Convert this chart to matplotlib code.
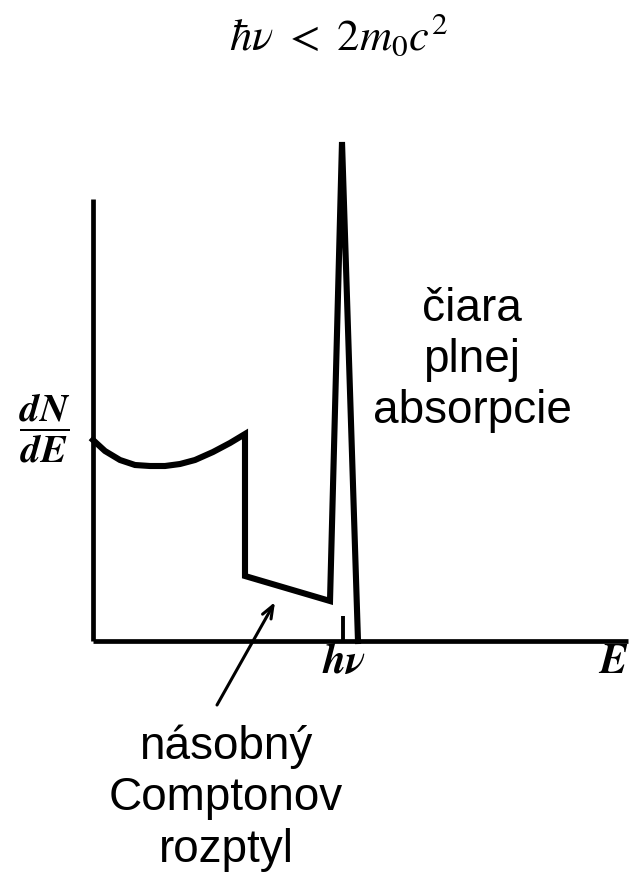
import matplotlib.pyplot as plt

plt.rcParams["mathtext.fontset"] = "stix"
plt.rcParams["font.family"] = ["Liberation Sans", "DejaVu Sans"]

# spectrum shape, energy in units of h*nu
energy = [0.0, 0.048, 0.108, 0.168, 0.228, 0.288, 0.348, 0.408, 0.48, 0.548,
          0.608, 0.608, 0.948, 0.996, 1.06]
counts = [2.01, 1.90, 1.81, 1.76, 1.75, 1.75, 1.77, 1.81, 1.89, 1.98,
          2.07, 0.65, 0.40, 4.99, 0.0]

photopeak = 1.0
tick_height = 0.25
arrow_head = (0.728, 0.39)
arrow_tail = (0.496, -0.64)

W, H = 630, 878
fig = plt.figure(figsize=(W / 100, H / 100), dpi=100)
ax = fig.add_axes([93 / W, (H - 642) / H, (628 - 93) / W, (642 - 200) / H])
ax.set_xlim(0, 2.14)
ax.set_ylim(0, 4.42)

ax.plot(energy, counts, color="black", lw=4.4, solid_joinstyle="miter",
        clip_on=False, zorder=3)
ax.vlines(photopeak, 0, tick_height, color="black", lw=2.8, zorder=3)

for side in ("top", "right"):
    ax.spines[side].set_visible(False)
for side in ("left", "bottom"):
    ax.spines[side].set_linewidth(3.4)
    ax.spines[side].set_capstyle("butt")
ax.set_xticks([])
ax.set_yticks([])

ax.annotate("", xy=arrow_head, xytext=arrow_tail, annotation_clip=False,
            arrowprops=dict(arrowstyle="->,head_length=0.9,head_width=0.35",
                            lw=2.2, color="black", shrinkA=0, shrinkB=0))

# labels
fig.text(339 / W, 1 - 36 / H, r"$\hbar\nu\ <\ 2m_0c^2$", fontsize=32,
         ha="center", va="center")
fig.text(45 / W, 1 - 428 / H, r"$\dfrac{\mathbfit{dN}}{\mathbfit{dE}}$",
         fontsize=28, ha="center", va="center")
fig.text(344 / W, 1 - 662 / H, r"$\mathbfit{h\nu}$", fontsize=30,
         ha="center", va="center")
fig.text(613 / W, 1 - 662 / H, r"$\mathbfit{E}$", fontsize=30,
         ha="center", va="center")

fig.text(472 / W, 1 - 360 / H, "čiara\nplnej\nabsorpcie", fontsize=33,
         ha="center", va="center", linespacing=1.2)
fig.text(226 / W, 1 - 798 / H, "násobný\nComptonov\nrozptyl", fontsize=33,
         ha="center", va="center", linespacing=1.22)

fig.savefig("out.png", dpi=100)
